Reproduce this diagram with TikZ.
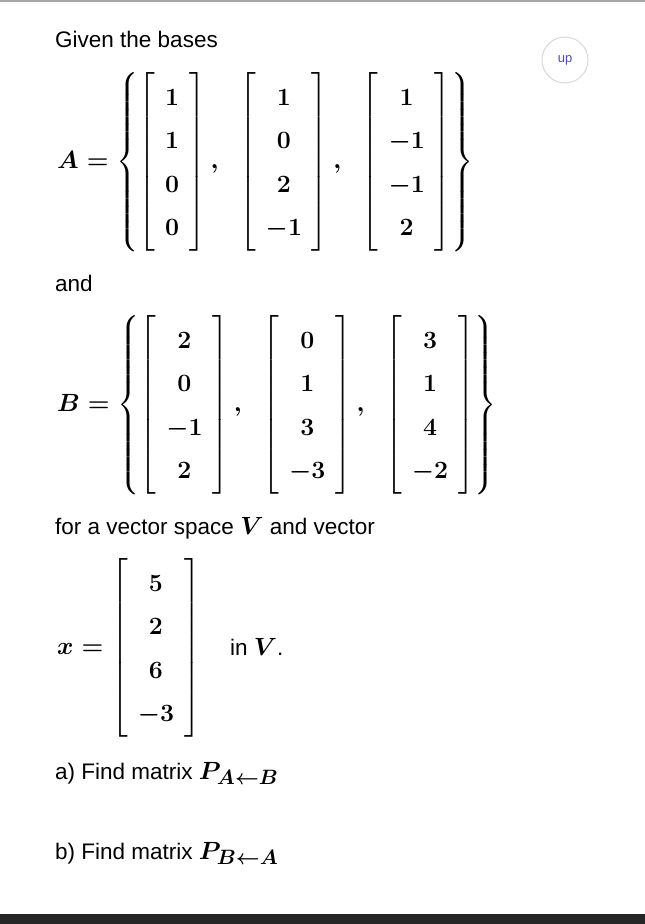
\documentclass[tikz,border=0pt]{standalone}
\usepackage{amsmath}
\usepackage{fontspec}
\setsansfont{Liberation Sans}
\tikzset{txt/.style={anchor=base west,inner sep=0pt,font=\sffamily\fontsize{22.5}{26}\selectfont},
 mth/.style={anchor=west,inner sep=0pt,font=\fontsize{24}{28}\selectfont\boldmath}}
\newcommand{\cv}[4]{\left[\begin{array}{@{\hspace{10pt}}c@{\hspace{10pt}}}#1\\#2\\#3\\#4\end{array}\right]}
\begin{document}
\begin{tikzpicture}[x=1pt,y=-1pt]
\useasboundingbox (0,0) rectangle (645,924);
\fill[white] (0,0) rectangle (645,924);
\draw[gray!70,line width=1.5] (0,0.75) -- (645,0.75);
\fill[black!85] (0,914) rectangle (645,924);
\node[draw=gray!30,line width=1,circle,minimum size=46,inner sep=0,text=blue!40!gray,font=\sffamily\fontsize{13}{15}\selectfont] (up) at (565,60) {up};
\node[txt] (t1) at (55,47) {Given the bases};
\node[mth] (A) at (57,162) {\renewcommand{\arraystretch}{1.55}$A=\left\{\cv{1}{1}{0}{0},\;\;\cv{1}{0}{2}{-1},\;\;\cv{1}{-1}{-1}{2}\right\}$};
\node[txt] (t2) at (55,291) {and};
\node[mth] (B) at (57,405) {\renewcommand{\arraystretch}{1.55}$B=\left\{\cv{2}{0}{-1}{2},\;\;\cv{0}{1}{3}{-3},\;\;\cv{3}{1}{4}{-2}\right\}$};
\node[txt] (t3) at (55,534) {for a vector space {\rmfamily\fontsize{28}{30}\selectfont$\boldsymbol{V}$} and vector};
\node[mth] (X) at (57,648) {\renewcommand{\arraystretch}{1.55}$x=\cv{5}{2}{6}{-3}$};
\node[txt] (t4) at (230,655) {in {\rmfamily\fontsize{28}{30}\selectfont$\boldsymbol{V}$}.};
\node[txt] (t5) at (55,779) {a) Find matrix {\rmfamily\fontsize{28}{30}\selectfont$\boldsymbol{P_{A\leftarrow B}}$}};
\node[txt] (t6) at (55,859) {b) Find matrix {\rmfamily\fontsize{28}{30}\selectfont$\boldsymbol{P_{B\leftarrow A}}$}};
\end{tikzpicture}
\end{document}
